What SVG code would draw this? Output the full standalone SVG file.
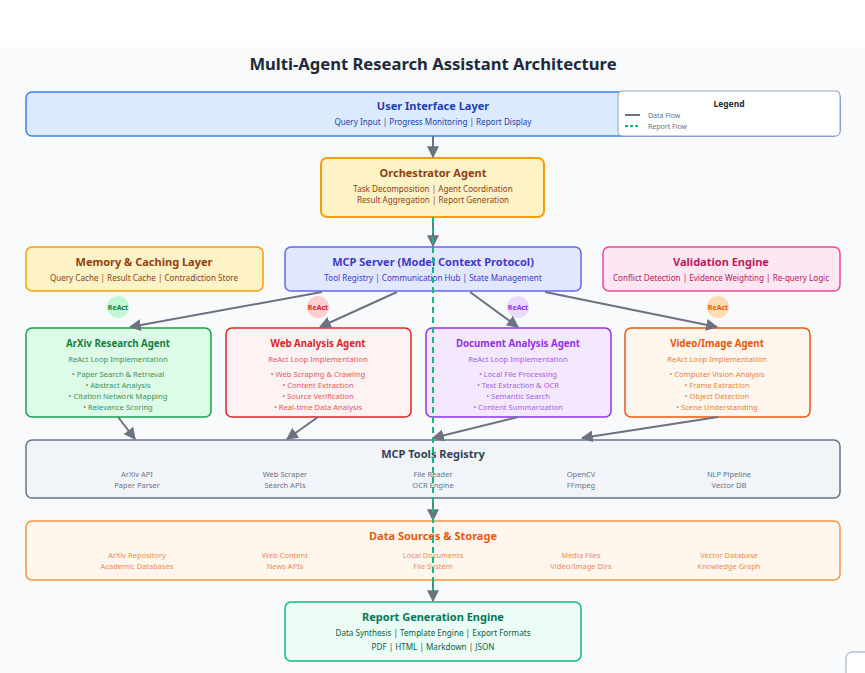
<svg xmlns="http://www.w3.org/2000/svg" width="865" height="673" viewBox="0 0 865 673">
<defs>
<marker id="arrB" viewBox="0 0 10 10" refX="9" refY="5" markerWidth="12" markerHeight="12" markerUnits="userSpaceOnUse" orient="auto">
<path d="M0,0 L10,5 L0,10 z" fill="#6b7280"/>
</marker>
</defs>
<style>
text{font-family:"Noto Sans","Open Sans","DejaVu Sans",sans-serif;text-anchor:middle}
.h{font-weight:bold;font-size:11px}
.s{font-size:8.1px}
.ah{font-weight:bold;font-size:9.7px}
.as{font-size:7.6px}
.t{font-size:7.5px;fill:#64748b}
.r{font-weight:bold;font-size:7px}
.ln{stroke:#6b7280;stroke-width:2;fill:none}
</style>
<rect x="0" y="0" width="865" height="673" fill="#ffffff"/>
<rect x="0" y="47" width="865" height="626" fill="#f8fafc"/>
<text x="433" y="70" style="font-weight:bold;font-size:16.6px;fill:#1e293b">Multi-Agent Research Assistant Architecture</text>

<g id="ui-layer">
<rect x="26" y="92" width="814" height="44" rx="6" fill="#dbeafe" stroke="#3b82f6" stroke-width="1.5"/>
<text x="433" y="110" class="h" fill="#1e40af">User Interface Layer</text>
<text x="433" y="125" class="s" fill="#1e40af">Query Input | Progress Monitoring | Report Display</text>
</g>

<g id="legend">
<rect x="618" y="91" width="222" height="45" rx="4" fill="#ffffff" stroke="#94a3b8" stroke-width="1"/>
<text x="729" y="107" style="font-weight:bold;font-size:8.5px;fill:#1e293b">Legend</text>
<line x1="625" y1="115" x2="640" y2="115" stroke="#6b7280" stroke-width="2"/>
<text x="648" y="118" style="font-size:7px;fill:#64748b;text-anchor:start">Data Flow</text>
<line x1="625" y1="126" x2="640" y2="126" stroke="#10b981" stroke-width="2" stroke-dasharray="3,2"/>
<text x="648" y="129" style="font-size:7px;fill:#64748b;text-anchor:start">Report Flow</text>
</g>

<g id="orchestrator">
<rect x="321" y="158" width="223" height="59" rx="6" fill="#fef3c7" stroke="#f59e0b" stroke-width="2"/>
<text x="433" y="177" class="h" fill="#92400e">Orchestrator Agent</text>
<text x="433" y="192" class="s" fill="#92400e">Task Decomposition | Agent Coordination</text>
<text x="433" y="203" class="s" fill="#92400e">Result Aggregation | Report Generation</text>
</g>

<g id="memory">
<rect x="26" y="247" width="237" height="44" rx="6" fill="#fef3c7" stroke="#f59e0b" stroke-width="1.5"/>
<text x="144" y="266" class="h" fill="#92400e">Memory &amp; Caching Layer</text>
<text x="144" y="281" class="s" fill="#92400e">Query Cache | Result Cache | Contradiction Store</text>
</g>

<g id="mcp-server">
<rect x="285" y="247" width="296" height="44" rx="6" fill="#e0e7ff" stroke="#6366f1" stroke-width="1.5"/>
<text x="433" y="266" class="h" fill="#4338ca">MCP Server (Model Context Protocol)</text>
<text x="433" y="281" class="s" fill="#4338ca">Tool Registry | Communication Hub | State Management</text>
</g>

<g id="validation">
<rect x="603" y="247" width="237" height="44" rx="6" fill="#fce7f3" stroke="#ec4899" stroke-width="1.5"/>
<text x="721" y="266" class="h" fill="#be185d">Validation Engine</text>
<text x="721" y="281" class="s" fill="#be185d">Conflict Detection | Evidence Weighting | Re-query Logic</text>
</g>

<g id="react-badges">
<circle cx="118" cy="307" r="11" fill="#bbf7d0" opacity="0.9"/>
<text x="118" y="310" class="r" fill="#15803d">ReAct</text>
<circle cx="318" cy="307" r="11" fill="#fecaca" opacity="0.9"/>
<text x="318" y="310" class="r" fill="#dc2626">ReAct</text>
<circle cx="518" cy="307" r="11" fill="#e9d5ff" opacity="0.9"/>
<text x="518" y="310" class="r" fill="#9333ea">ReAct</text>
<circle cx="718" cy="307" r="11" fill="#fed7aa" opacity="0.9"/>
<text x="718" y="310" class="r" fill="#ea580c">ReAct</text>
</g>

<g id="arxiv-agent">
<rect x="26" y="328" width="185" height="89" rx="6" fill="#dcfce7" stroke="#16a34a" stroke-width="1.5"/>
<text x="118" y="347" class="ah" fill="#15803d">ArXiv Research Agent</text>
<text x="118" y="362" class="as" fill="#3f8f5a">ReAct Loop Implementation</text>
<text x="118" y="377" class="as" fill="#3f8f5a">• Paper Search &amp; Retrieval</text>
<text x="118" y="388" class="as" fill="#3f8f5a">• Abstract Analysis</text>
<text x="118" y="399" class="as" fill="#3f8f5a">• Citation Network Mapping</text>
<text x="118" y="410" class="as" fill="#3f8f5a">• Relevance Scoring</text>
</g>

<g id="web-agent">
<rect x="226" y="328" width="185" height="89" rx="6" fill="#fef2f2" stroke="#dc2626" stroke-width="1.5"/>
<text x="318" y="347" class="ah" fill="#dc2626">Web Analysis Agent</text>
<text x="318" y="362" class="as" fill="#e45a5a">ReAct Loop Implementation</text>
<text x="318" y="377" class="as" fill="#e45a5a">• Web Scraping &amp; Crawling</text>
<text x="318" y="388" class="as" fill="#e45a5a">• Content Extraction</text>
<text x="318" y="399" class="as" fill="#e45a5a">• Source Verification</text>
<text x="318" y="410" class="as" fill="#e45a5a">• Real-time Data Analysis</text>
</g>

<g id="document-agent">
<rect x="426" y="328" width="185" height="89" rx="6" fill="#f3e8ff" stroke="#9333ea" stroke-width="1.5"/>
<text x="518" y="347" class="ah" fill="#9333ea">Document Analysis Agent</text>
<text x="518" y="362" class="as" fill="#a562e8">ReAct Loop Implementation</text>
<text x="518" y="377" class="as" fill="#a562e8">• Local File Processing</text>
<text x="518" y="388" class="as" fill="#a562e8">• Text Extraction &amp; OCR</text>
<text x="518" y="399" class="as" fill="#a562e8">• Semantic Search</text>
<text x="518" y="410" class="as" fill="#a562e8">• Content Summarization</text>
</g>

<g id="video-agent">
<rect x="625" y="328" width="185" height="89" rx="6" fill="#fff7ed" stroke="#ea580c" stroke-width="1.5"/>
<text x="717" y="347" class="ah" fill="#ea580c">Video/Image Agent</text>
<text x="717" y="362" class="as" fill="#f0803f">ReAct Loop Implementation</text>
<text x="717" y="377" class="as" fill="#f0803f">• Computer Vision Analysis</text>
<text x="717" y="388" class="as" fill="#f0803f">• Frame Extraction</text>
<text x="717" y="399" class="as" fill="#f0803f">• Object Detection</text>
<text x="717" y="410" class="as" fill="#f0803f">• Scene Understanding</text>
</g>

<g id="mcp-tools">
<rect x="26" y="440" width="814" height="58" rx="6" fill="#f1f5f9" stroke="#64748b" stroke-width="1.5"/>
<text x="433" y="458" class="h" fill="#334155">MCP Tools Registry</text>
<text x="137" y="477" class="t">ArXiv API</text>
<text x="137" y="488" class="t">Paper Parser</text>
<text x="285" y="477" class="t">Web Scraper</text>
<text x="285" y="488" class="t">Search APIs</text>
<text x="433" y="477" class="t">File Reader</text>
<text x="433" y="488" class="t">OCR Engine</text>
<text x="581" y="477" class="t">OpenCV</text>
<text x="581" y="488" class="t">FFmpeg</text>
<text x="729" y="477" class="t">NLP Pipeline</text>
<text x="729" y="488" class="t">Vector DB</text>
</g>

<g id="data-sources">
<rect x="26" y="521" width="814" height="59" rx="6" fill="#fff7ed" stroke="#fb923c" stroke-width="1.5"/>
<text x="433" y="540" class="h" fill="#ea580c">Data Sources &amp; Storage</text>
<text x="137" y="558" class="t" style="fill:#f08a4b">ArXiv Repository</text>
<text x="137" y="569" class="t" style="fill:#f08a4b">Academic Databases</text>
<text x="285" y="558" class="t" style="fill:#f08a4b">Web Content</text>
<text x="285" y="569" class="t" style="fill:#f08a4b">News APIs</text>
<text x="433" y="558" class="t" style="fill:#f08a4b">Local Documents</text>
<text x="433" y="569" class="t" style="fill:#f08a4b">File System</text>
<text x="581" y="558" class="t" style="fill:#f08a4b">Media Files</text>
<text x="581" y="569" class="t" style="fill:#f08a4b">Video/Image Dirs</text>
<text x="729" y="558" class="t" style="fill:#f08a4b">Vector Database</text>
<text x="729" y="569" class="t" style="fill:#f08a4b">Knowledge Graph</text>
</g>

<g id="report-engine">
<rect x="285" y="602" width="296" height="59" rx="6" fill="#ecfdf5" stroke="#10b981" stroke-width="1.5"/>
<text x="433" y="621" class="h" fill="#047857">Report Generation Engine</text>
<text x="433" y="636" class="s" fill="#065f46">Data Synthesis | Template Engine | Export Formats</text>
<text x="433" y="650" class="s" fill="#065f46">PDF | HTML | Markdown | JSON</text>
</g>

<g id="connectors">
<line x1="433" y1="136" x2="433" y2="157" class="ln" marker-end="url(#arrB)"/>
<line x1="433" y1="217" x2="433" y2="246" class="ln" marker-end="url(#arrB)"/>
<line x1="322" y1="292" x2="130" y2="327" class="ln" marker-end="url(#arrB)"/>
<line x1="397" y1="292" x2="320" y2="327" class="ln" marker-end="url(#arrB)"/>
<line x1="470" y1="292" x2="518" y2="327" class="ln" marker-end="url(#arrB)"/>
<line x1="545" y1="292" x2="717" y2="327" class="ln" marker-end="url(#arrB)"/>
<line x1="118" y1="417" x2="135" y2="439" class="ln" marker-end="url(#arrB)"/>
<line x1="318" y1="417" x2="287" y2="439" class="ln" marker-end="url(#arrB)"/>
<line x1="518" y1="417" x2="433" y2="438" class="ln" marker-end="url(#arrB)"/>
<line x1="718" y1="417" x2="582" y2="438" class="ln" marker-end="url(#arrB)"/>
<line x1="433" y1="498" x2="433" y2="520" class="ln" marker-end="url(#arrB)"/>
<line x1="433" y1="580" x2="433" y2="601" class="ln" marker-end="url(#arrB)"/>
<line x1="433" y1="217" x2="433" y2="590" stroke="#10b981" stroke-width="2" stroke-dasharray="6,4"/>
</g>

<rect x="846" y="652" width="30" height="30" rx="6" fill="#ffffff" stroke="#94a3b8" stroke-width="1"/>
</svg>
